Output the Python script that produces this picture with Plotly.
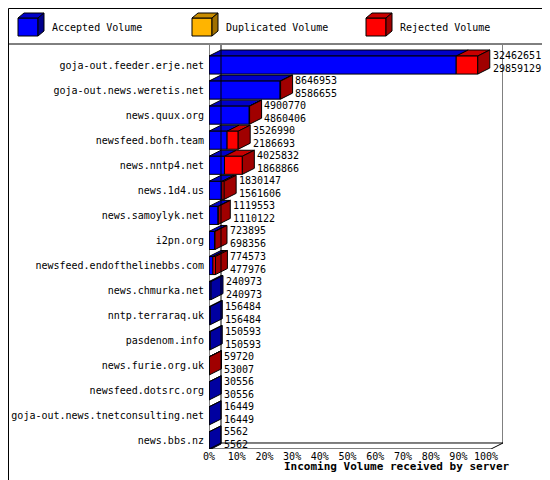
import plotly.graph_objects as go

servers = ["goja-out.feeder.erje.net", "goja-out.news.weretis.net", "news.quux.org",
           "newsfeed.bofh.team", "news.nntp4.net", "news.1d4.us", "news.samoylyk.net",
           "i2pn.org", "newsfeed.endofthelinebbs.com", "news.chmurka.net",
           "nntp.terraraq.uk", "pasdenom.info", "news.furie.org.uk", "newsfeed.dotsrc.org",
           "goja-out.news.tnetconsulting.net", "news.bbs.nz"]
total = [32462651, 8646953, 4900770, 3526990, 4025832, 1830147, 1119553, 723895,
         774573, 240973, 156484, 150593, 59720, 30556, 16449, 5562]
accepted = [29859129, 8586655, 4860406, 2186693, 1868866, 1561606, 1110122, 698356,
            477976, 240973, 156484, 150593, 53007, 30556, 16449, 5562]
ticks = [0, 10, 20, 30, 40, 50, 60, 70, 80, 90, 100]

W, H = 550, 480
L, R, T, B = 201, 55, 37, 39
XMAX = 106.1
YTOP, YBOT = -0.8, 15.32
DX, DY = 4.33, 0.24   # depth of the 3D effect in data units
HALF = 0.36
SCALE = 97.0 / max(total)

BLUE = ("#0000ff", "#0000c8", "#0000a0")
RED = ("#ff0000", "#c80000", "#a00000")

fig = go.Figure()


def poly(xs, ys, color):
    fig.add_trace(go.Scatter(x=xs + [xs[0]], y=ys + [ys[0]], mode="lines", fill="toself",
                             fillcolor=color, line=dict(color="black", width=1),
                             hoverinfo="skip", showlegend=False, cliponaxis=False))


for i, name in enumerate(servers):
    segs = [(0, accepted[i] * SCALE, BLUE),
            (accepted[i] * SCALE, total[i] * SCALE, RED)]
    segs = [s for s in segs if s[1] - s[0] > 1e-9] or [(0, 0, BLUE)]
    top, bot = i - HALF, i + HALF
    for x0, x1, col in segs:
        poly([x0, x1, x1 + DX, x0 + DX], [top, top, top - DY, top - DY], col[1])
        if x1 > x0:
            poly([x0, x1, x1, x0], [top, top, bot, bot], col[0])
    x0, x1, col = segs[-1]
    poly([x1, x1 + DX, x1 + DX, x1], [top, top - DY, bot - DY, bot], col[2])
    fig.add_annotation(x=x1 + DX + 0.3, y=i - 0.12, xanchor="left", yanchor="middle",
                       text=f"{total[i]}<br>{accepted[i]}", showarrow=False, align="left",
                       font=dict(family="DejaVu Sans Mono", size=10, color="black"))

# walls / floor
line = dict(color="black", width=1)
for x0, y0, x1, y1 in [(DX, YTOP, DX, YBOT - DY), (DX, YBOT - DY, XMAX, YBOT - DY),
                       (XMAX, YTOP, XMAX, YBOT - DY), (0, YTOP, 0, YBOT),
                       (0, YBOT, XMAX - DX, YBOT), (0, YBOT, DX, YBOT - DY),
                       (XMAX - DX, YBOT, XMAX, YBOT - DY)]:
    fig.add_shape(type="line", xref="x", yref="y", x0=x0, y0=y0, x1=x1, y1=y1, line=line)
for t in ticks:
    fig.add_shape(type="line", xref="x", yref="y", x0=t, x1=t, y0=YBOT, y1=YBOT + 0.15, line=line)


# legend drawn in pixel space
def px(x):
    return (x - L) / (W - L - R)


def py(y):
    return (H - B - y) / (H - T - B)


legend = [("Accepted Volume", 10, ("#0000ff", "#0000c8", "#00008c")),
          ("Duplicated Volume", 184, ("#ffb400", "#c88c00", "#a07000")),
          ("Rejected Volume", 358, ("#ff0000", "#c80000", "#a00000"))]
for label, lx, col in legend:
    faces = [([lx, lx + 20, lx + 20, lx], [10, 10, 28, 28], col[0]),
             ([lx, lx + 6, lx + 26, lx + 20], [10, 5, 5, 10], col[1]),
             ([lx + 20, lx + 26, lx + 26, lx + 20], [10, 5, 23, 28], col[2])]
    for xs, ys, c in faces:
        path = "M " + " L ".join(f"{px(a)},{py(b)}" for a, b in zip(xs, ys)) + " Z"
        fig.add_shape(type="path", xref="paper", yref="paper", path=path,
                      fillcolor=c, line=line)
    fig.add_annotation(xref="paper", yref="paper", x=px(lx + 32), y=py(20), xanchor="left",
                       yanchor="middle", text=label, showarrow=False,
                       font=dict(family="DejaVu Sans Mono", size=10, color="black"))

fig.add_shape(type="line", xref="paper", yref="paper", x0=px(0), x1=px(W), y0=py(36), y1=py(36), line=line)
fig.add_shape(type="rect", xref="paper", yref="paper", x0=px(0.5), x1=px(W - 0.5),
              y0=py(0.5), y1=py(H - 0.5), line=line)

fig.add_annotation(xref="paper", yref="paper", x=px(274), y=py(467), text="<b>Incoming Volume received by server</b>",
                   showarrow=False, font=dict(family="DejaVu Sans Mono", size=11, color="black"))

fig.update_layout(
    width=W, height=H, margin=dict(l=L, r=R, t=T, b=B, autoexpand=False),
    paper_bgcolor="white", plot_bgcolor="white", showlegend=False,
    xaxis=dict(range=[0, XMAX], tickvals=ticks, ticktext=[f"{t}%" for t in ticks],
               showgrid=False, zeroline=False, showline=False, ticks="", automargin=False,
               tickfont=dict(family="DejaVu Sans Mono", size=10, color="black")),
    yaxis=dict(range=[YBOT, YTOP], tickvals=list(range(len(servers))), ticktext=servers,
               showgrid=False, zeroline=False, showline=False, ticks="", ticklabelstandoff=4,
               automargin=False,
               tickfont=dict(family="DejaVu Sans Mono", size=10, color="black")),
)

fig.write_html("out.html")
